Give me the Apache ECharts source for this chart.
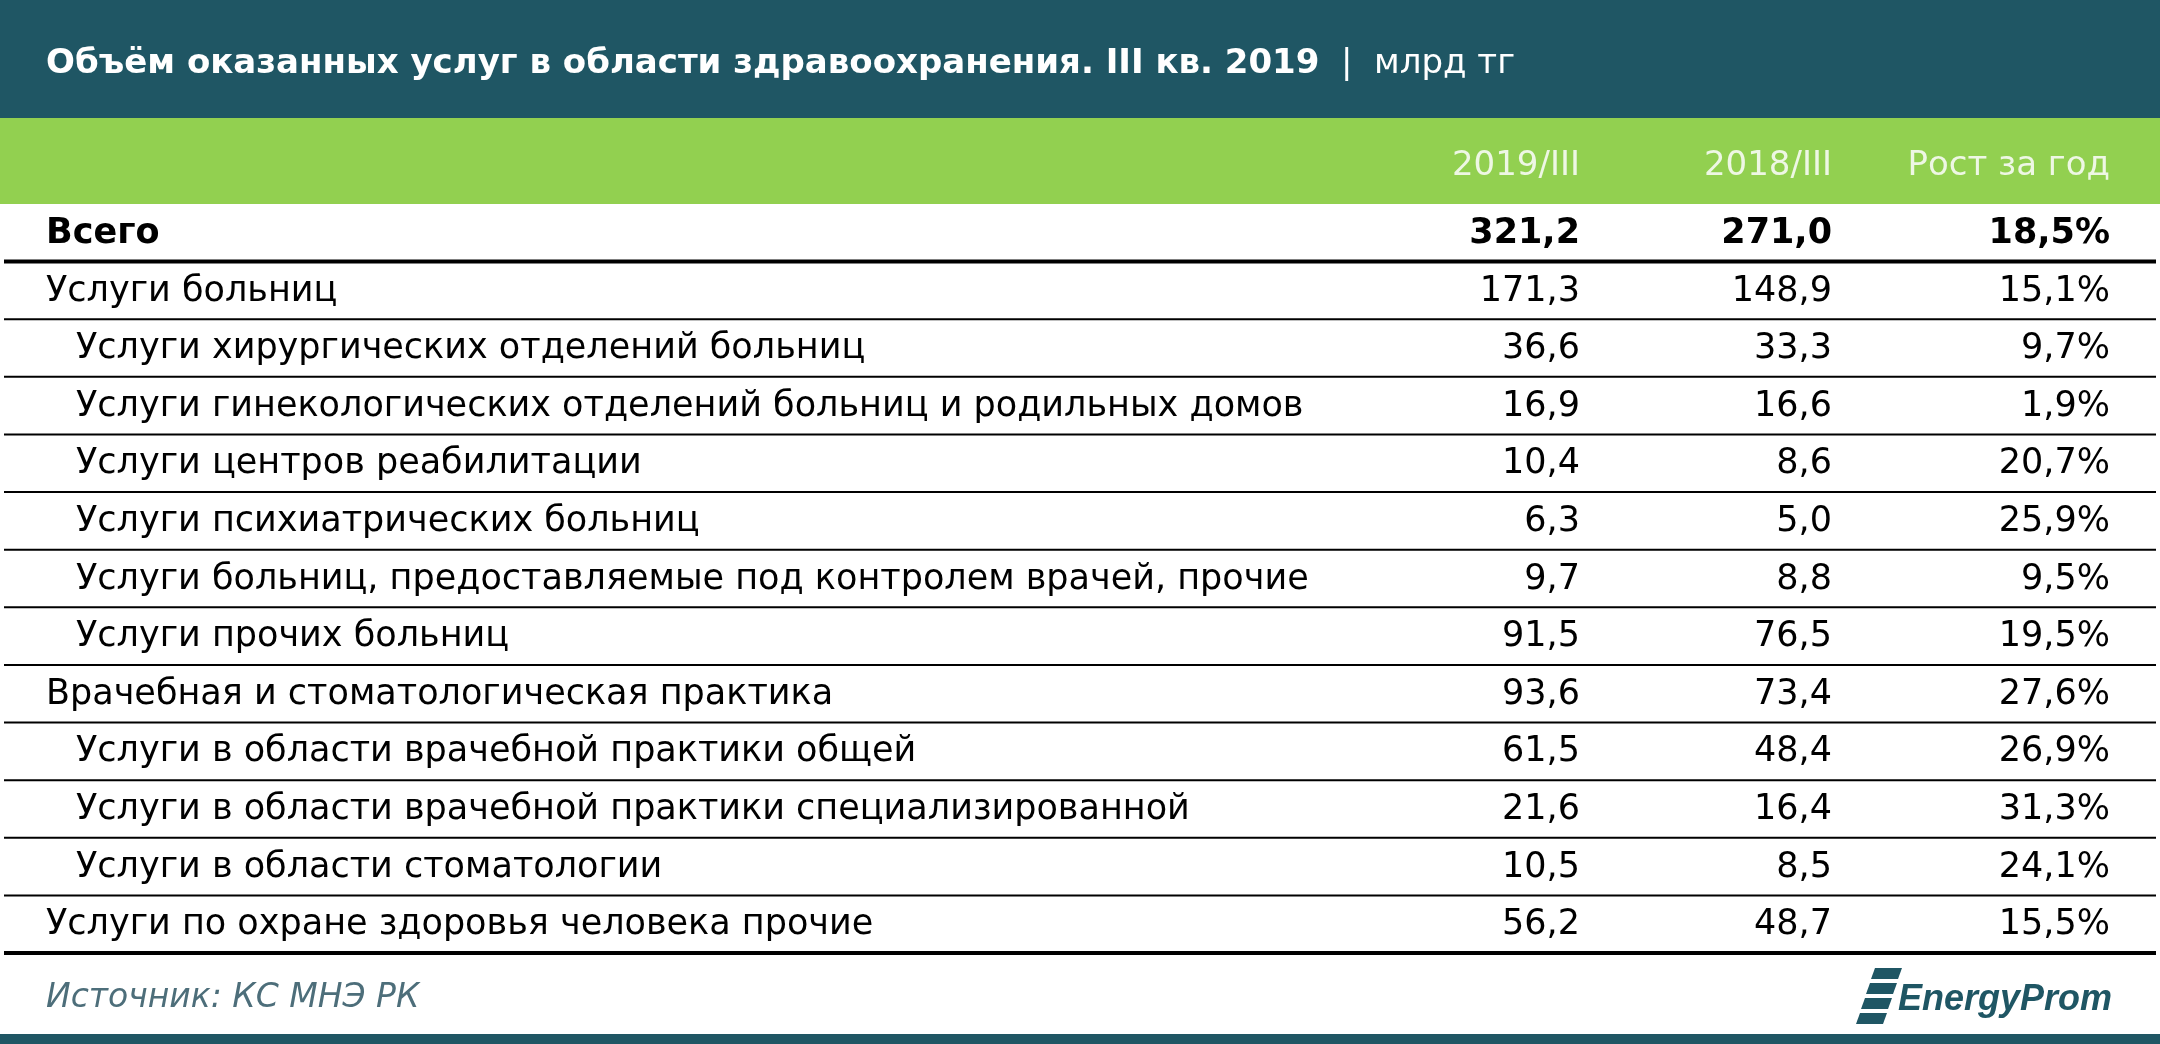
<!DOCTYPE html>
<html><head><meta charset="utf-8">
<script src="https://cdn.jsdelivr.net/npm/echarts@6/dist/echarts.min.js"></script>
<style>html,body{margin:0;padding:0;background:#fff}#c{width:2160px;height:1044px}</style>
</head><body><div id="c"></div>
<script>
const title = 'Объём оказанных услуг в области здравоохранения. III кв. 2019';
const unit = 'млрд тг';
const columns = ['2019/III', '2018/III', 'Рост за год'];
const categories = [
  'Всего',
  'Услуги больниц',
  'Услуги хирургических отделений больниц',
  'Услуги гинекологических отделений больниц и родильных домов',
  'Услуги центров реабилитации',
  'Услуги психиатрических больниц',
  'Услуги больниц, предоставляемые под контролем врачей, прочие',
  'Услуги прочих больниц',
  'Врачебная и стоматологическая практика',
  'Услуги в области врачебной практики общей',
  'Услуги в области врачебной практики специализированной',
  'Услуги в области стоматологии',
  'Услуги по охране здоровья человека прочие'
];
const levels = [0,0,1,1,1,1,1,1,0,1,1,1,0];
const v2019 = [321.2,171.3,36.6,16.9,10.4,6.3,9.7,91.5,93.6,61.5,21.6,10.5,56.2];
const v2018 = [271.0,148.9,33.3,16.6,8.6,5.0,8.8,76.5,73.4,48.4,16.4,8.5,48.7];
const growth = [18.5,15.1,9.7,1.9,20.7,25.9,9.5,19.5,27.6,26.9,31.3,24.1,15.5];
const source = 'Источник: КС МНЭ РК';

const fmt = (v,d) => v.toFixed(d).replace('.', ',');
const FONT = 'DejaVu Sans';
const colX = [1580, 1832, 2110];
const chart = echarts.init(document.getElementById('c'));
chart.setOption({
  animation:false,
  grid:{left:0,right:0,top:204,height:749},
  xAxis:{type:'value',min:0,max:2160,show:false},
  yAxis:{type:'category',data:categories,inverse:true,show:false},
  graphic:[
    {type:'rect',shape:{x:0,y:0,width:2160,height:118},style:{fill:'#1f5664'}},
    {type:'rect',shape:{x:0,y:118,width:2160,height:86},style:{fill:'#92d050'}},
    {type:'text',x:46,y:64,style:{text:'{b|'+title+'}{n|  |  '+unit+'}',verticalAlign:'middle',
      rich:{b:{fontFamily:FONT,fontSize:34,fontWeight:'bold',fill:'#fff'},n:{fontFamily:FONT,fontSize:34,fill:'#fff'}}}},
    ...columns.map((c,i)=>({type:'text',x:colX[i],y:166,style:{text:c,align:'right',verticalAlign:'middle',fontFamily:FONT,fontSize:34,fill:'#eef7e4'}})),
    {type:'text',x:46,y:998,style:{text:source,verticalAlign:'middle',fontFamily:FONT,fontSize:33,fontStyle:'italic',fill:'#4d6e7a'}},
    {type:'polygon',shape:{points:[[1875,968],[1902,968],[1898,979],[1871,979]]},style:{fill:'#1f5664'}},
    {type:'polygon',shape:{points:[[1870,983],[1897,983],[1893,994],[1866,994]]},style:{fill:'#1f5664'}},
    {type:'polygon',shape:{points:[[1865,998],[1892,998],[1888,1009],[1861,1009]]},style:{fill:'#1f5664'}},
    {type:'polygon',shape:{points:[[1860,1013],[1887,1013],[1883,1024],[1856,1024]]},style:{fill:'#1f5664'}},
    {type:'text',x:2112,y:1000,style:{text:'EnergyProm',align:'right',verticalAlign:'middle',fontFamily:'Liberation Sans',fontSize:36,fontStyle:'italic',fontWeight:'bold',fill:'#1f5664'}},
    {type:'rect',shape:{x:0,y:1034,width:2160,height:10},style:{fill:'#1f5664'}}
  ],
  series:[{
    type:'custom',
    data:categories.map((c,i)=>[i]),
    renderItem:(params,api)=>{
      const i = api.value(0);
      const p = api.coord([0,i]);
      const h = api.size([0,1])[1];
      const y = p[1];
      const bold = i===0;
      const base = {fontFamily:FONT,fontSize:35,fill:'#000',fontWeight:bold?'bold':'normal',verticalAlign:'middle'};
      const yb = y + h/2;
      const thick = (i===0||i===categories.length-1);
      return {type:'group',children:[
        {type:'text',x:levels[i]?76:46,y:y+1,style:Object.assign({text:categories[i],align:'left'},base)},
        {type:'text',x:colX[0],y:y+1,style:Object.assign({text:fmt(v2019[i],1),align:'right'},base)},
        {type:'text',x:colX[1],y:y+1,style:Object.assign({text:fmt(v2018[i],1),align:'right'},base)},
        {type:'text',x:colX[2],y:y+1,style:Object.assign({text:fmt(growth[i],1)+'%',align:'right'},base)},
        {type:'line',shape:{x1:4,y1:yb,x2:2156,y2:yb},style:{stroke:'#000',lineWidth:thick?4:2}}
      ]};
    }
  }]
});
</script></body></html>
